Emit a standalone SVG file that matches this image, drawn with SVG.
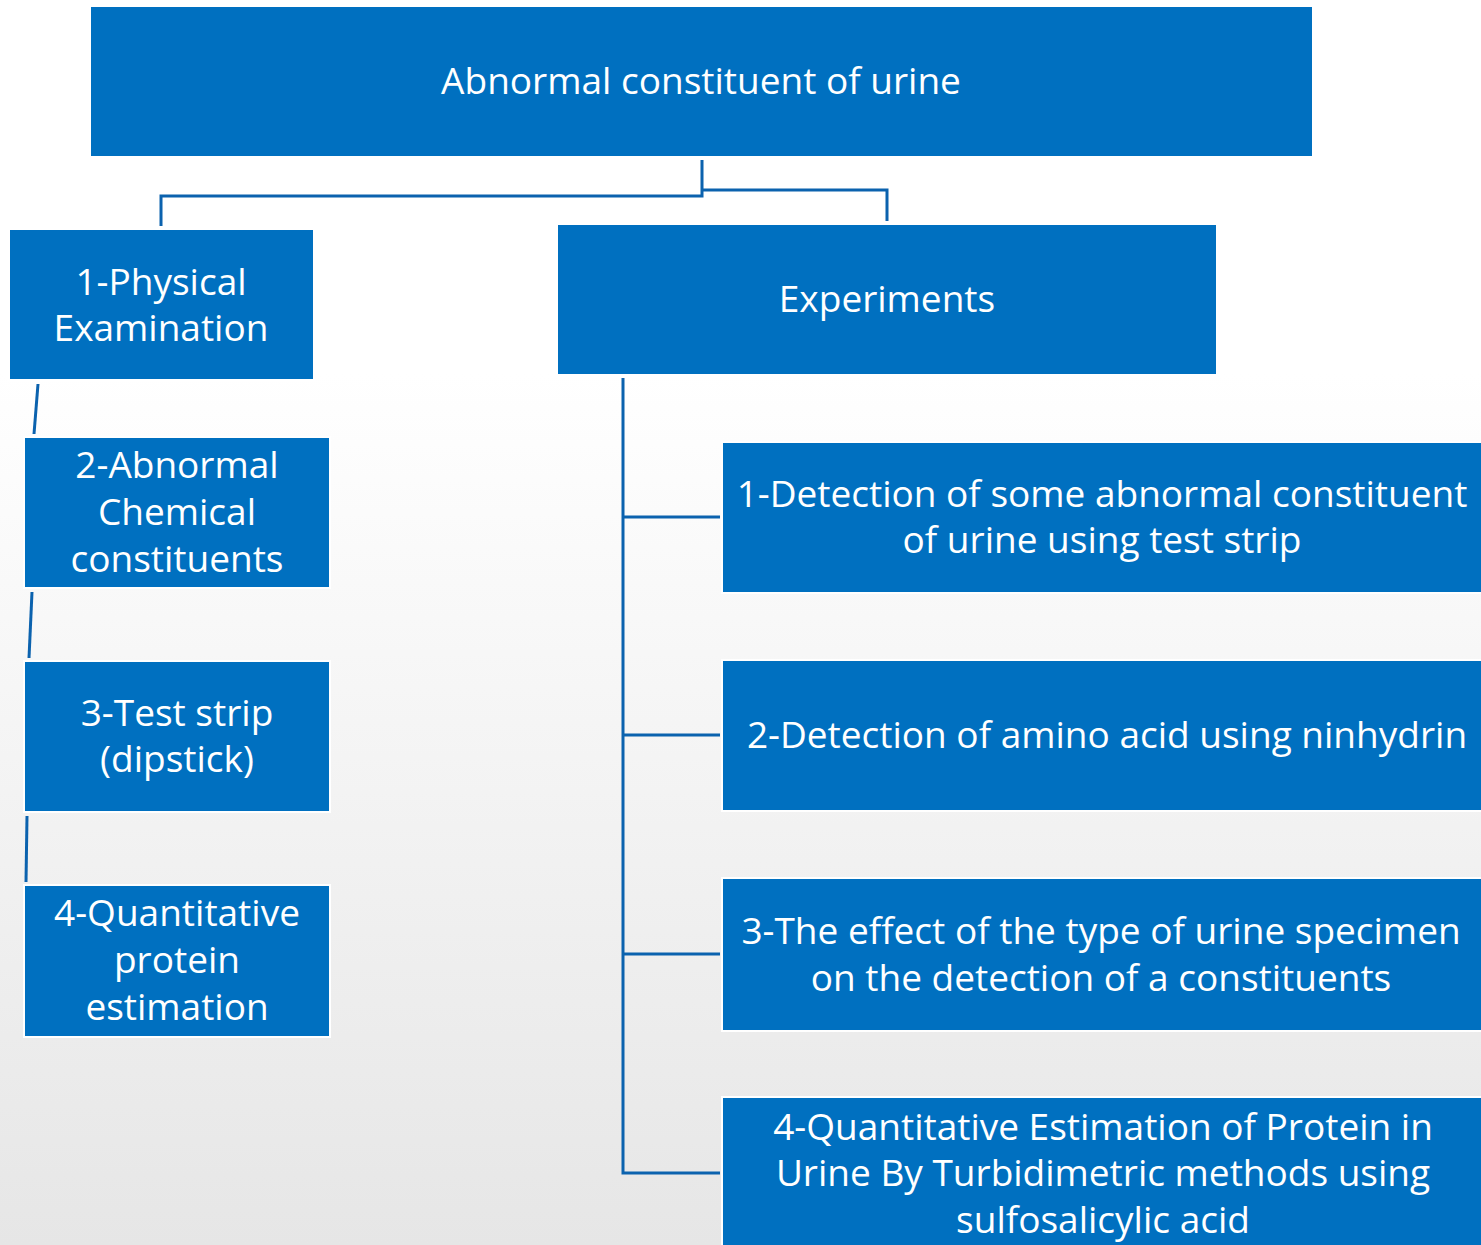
<svg xmlns="http://www.w3.org/2000/svg" width="1481" height="1245" viewBox="0 0 1481 1245">
<defs>
<linearGradient id="bg" x1="0" y1="0" x2="0" y2="1">
<stop offset="0" stop-color="#ffffff"/>
<stop offset="0.3" stop-color="#ffffff"/>
<stop offset="1" stop-color="#e6e6e6"/>
</linearGradient>
<style>
.box{fill:#0070C0;stroke:#ffffff;stroke-width:2}
.t{fill:#ffffff;font-family:"Open Sans","Noto Sans",sans-serif;font-size:37px;text-anchor:middle}
.c{fill:none;stroke:#0B62AE;stroke-width:3}
</style>
</defs>
<rect x="0" y="0" width="1481" height="1245" fill="url(#bg)"/>
<g id="connectors">
<polyline class="c" points="702,160 702,196 161,196 161,226"/>
<polyline class="c" points="702,190 887,190 887,221"/>
<line class="c" x1="38" y1="384" x2="34" y2="434"/>
<line class="c" x1="32" y1="592" x2="29" y2="658"/>
<line class="c" x1="27" y1="816" x2="26" y2="882"/>
<polyline class="c" points="623,378 623,1173 720,1173"/>
<line class="c" x1="623" y1="517" x2="720" y2="517"/>
<line class="c" x1="623" y1="735" x2="720" y2="735"/>
<line class="c" x1="623" y1="954" x2="720" y2="954"/>
</g>
<g id="root"><rect class="box" x="90" y="6" width="1223" height="151"/><text class="t" x="701" y="94">Abnormal constituent of urine</text></g>
<g id="physical"><rect class="box" x="9" y="229" width="305" height="151"/><text class="t" x="161" y="295">1-Physical</text><text class="t" x="161" y="341">Examination</text></g>
<g id="experiments"><rect class="box" x="557" y="224" width="660" height="151"/><text class="t" x="887" y="312">Experiments</text></g>
<g id="chemical"><rect class="box" x="24" y="437" width="306" height="151"/><text class="t" x="177" y="478">2-Abnormal</text><text class="t" x="177" y="525">Chemical</text><text class="t" x="177" y="572">constituents</text></g>
<g id="teststrip"><rect class="box" x="24" y="661" width="306" height="151"/><text class="t" x="177" y="726">3-Test strip</text><text class="t" x="177" y="772">(dipstick)</text></g>
<g id="quantprotein"><rect class="box" x="24" y="885" width="306" height="152"/><text class="t" x="177" y="926">4-Quantitative</text><text class="t" x="177" y="973">protein</text><text class="t" x="177" y="1020">estimation</text></g>
<g id="exp1"><rect class="box" x="722" y="442" width="770" height="151"/><text class="t" x="1102" y="507">1-Detection of some abnormal constituent</text><text class="t" x="1102" y="553">of urine using test strip</text></g>
<g id="exp2"><rect class="box" x="722" y="660" width="770" height="151"/><text class="t" x="1107" y="748">2-Detection of amino acid using ninhydrin</text></g>
<g id="exp3"><rect class="box" x="722" y="878" width="770" height="153"/><text class="t" x="1101" y="944">3-The effect of the type of urine specimen</text><text class="t" x="1101" y="991">on the detection of a constituents</text></g>
<g id="exp4"><rect class="box" x="722" y="1097" width="770" height="160"/><text class="t" x="1103" y="1140">4-Quantitative Estimation of Protein in</text><text class="t" x="1103" y="1186">Urine By Turbidimetric methods using</text><text class="t" x="1103" y="1233">sulfosalicylic acid</text></g>
</svg>
